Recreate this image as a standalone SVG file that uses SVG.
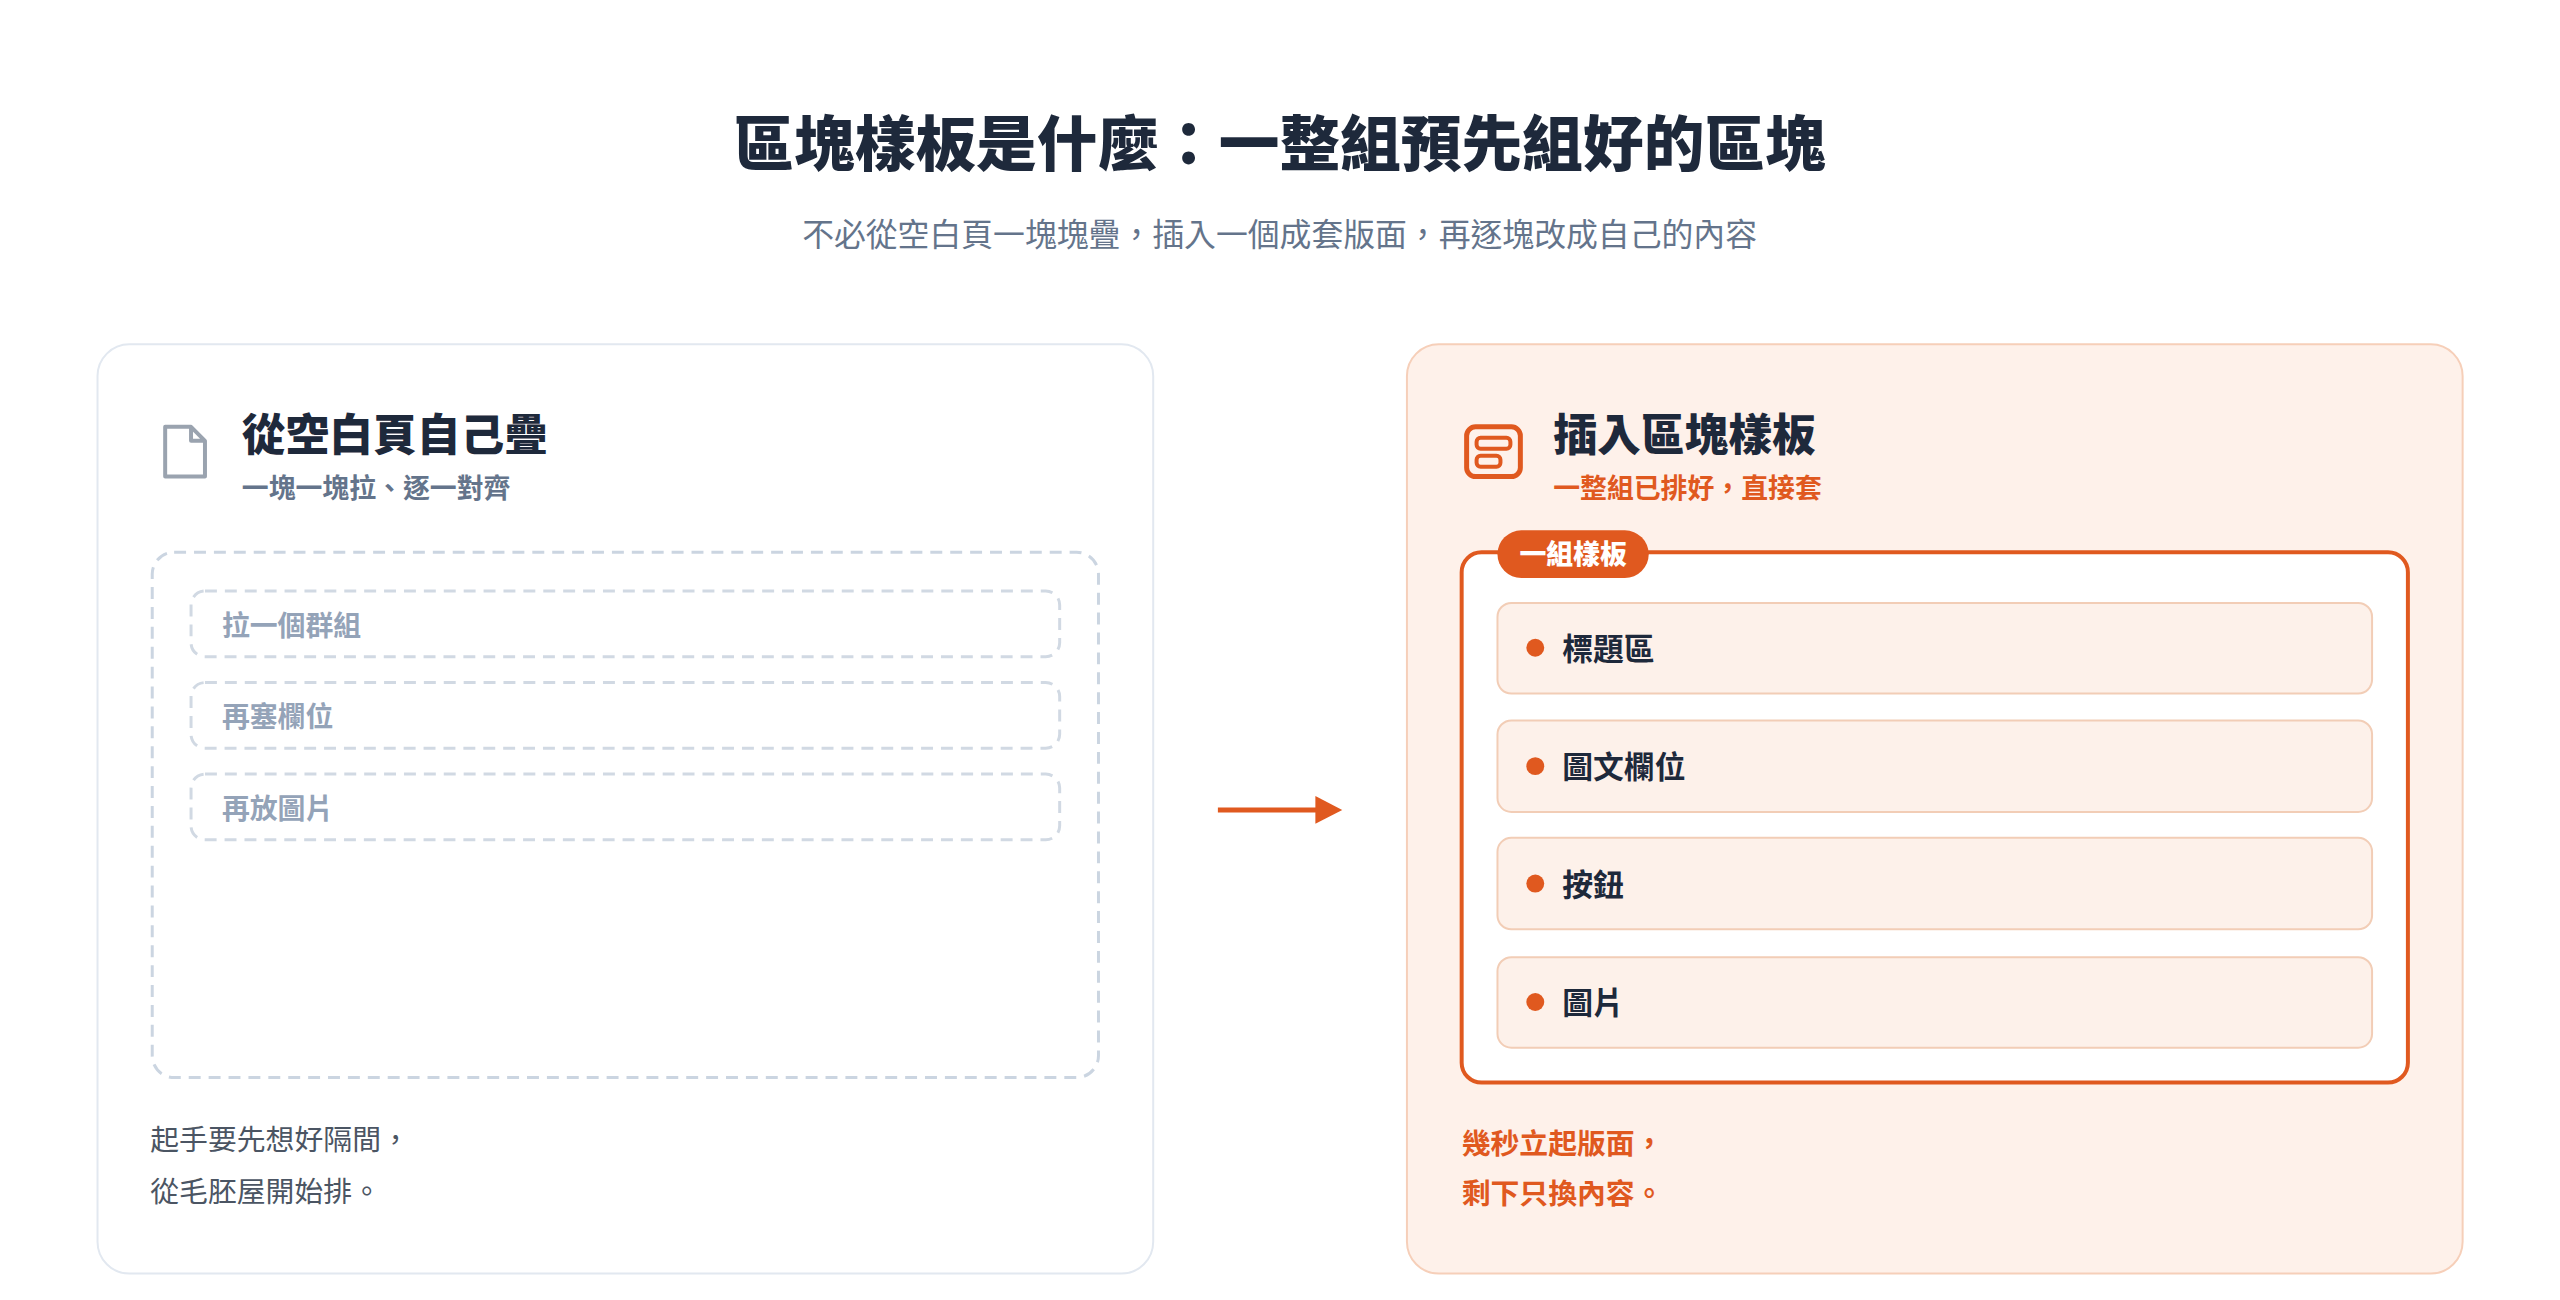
<svg xmlns="http://www.w3.org/2000/svg" width="2560" height="1300" viewBox="0 0 2560 1300">
<style>
text{font-family:"Noto Sans CJK TC","Noto Sans CJK SC",sans-serif}
.h{font-weight:900;fill:#1e293b}
.g{fill:#64748b}
.o{fill:#e0591f}
.dash{fill:none;stroke:#cbd5e1;stroke-width:3;stroke-dasharray:12 8}
.row{fill:none;stroke:#d1d9e3;stroke-width:3;stroke-dasharray:12 8}
.item{fill:#fdf1ea;stroke:#f2cdb6;stroke-width:2}
.it{font-size:31px;font-weight:700;fill:#1e293b}
</style>
<rect width="2560" height="1300" fill="#fff"/>
<g transform="scale(0.995)">
<text x="1286" y="167" text-anchor="middle" class="h" font-size="61">區塊樣板是什麼：一整組預先組好的區塊</text>
<text x="1286" y="247" text-anchor="middle" class="g" font-size="32">不必從空白頁一塊塊疊，插入一個成套版面，再逐塊改成自己的內容</text>

<g id="left">
<rect x="98" y="346" width="1061" height="934" rx="32" fill="#fff" stroke="#e2e8f0" stroke-width="2"/>
<path d="M166 429 H192 L206 443 V479 H166 Z M192 429 V443 H206" fill="none" stroke="#9aa3af" stroke-width="4" stroke-linejoin="round"/>
<text x="243" y="453" class="h" font-size="44">從空白頁自己疊</text>
<text x="243" y="501" font-size="27" font-weight="700" class="g">一塊一塊拉、逐一對齊</text>
<rect x="153" y="555" width="951" height="528" rx="22" class="dash"/>
<rect x="192" y="594" width="873" height="66" rx="14" class="row"/>
<rect x="192" y="686" width="873" height="66" rx="14" class="row"/>
<rect x="192" y="778" width="873" height="66" rx="14" class="row"/>
<g font-size="28" font-weight="700" fill="#94a3b8">
<text x="223" y="639">拉一個群組</text>
<text x="223" y="731">再塞欄位</text>
<text x="223" y="823">再放圖片</text>
</g>
<text x="151" y="1156" font-size="29" fill="#4b5563">起手要先想好隔間，</text>
<text x="151" y="1208" font-size="29" fill="#4b5563">從毛胚屋開始排。</text>
</g>

<g id="connectors">
<line x1="1224" y1="814" x2="1325" y2="814" stroke="#e0591f" stroke-width="5"/>
<polygon points="1322,800 1349,814 1322,828" fill="#e0591f"/>
</g>

<g id="right">
<rect x="1414" y="346" width="1061" height="934" rx="32" fill="#fef1ea" stroke="#f6cfb9" stroke-width="2"/>
<rect x="1474" y="429" width="54" height="50" rx="9" fill="none" stroke="#e0591f" stroke-width="5"/>
<rect x="1484" y="440" width="34" height="11" rx="4" fill="none" stroke="#e0591f" stroke-width="4"/>
<rect x="1484" y="458" width="24" height="11" rx="4" fill="none" stroke="#e0591f" stroke-width="4"/>
<text x="1561" y="453" class="h" font-size="44">插入區塊樣板</text>
<text x="1561" y="501" font-size="27" font-weight="700" class="o">一整組已排好，直接套</text>
<rect x="1469" y="555" width="951" height="533" rx="20" fill="#fff" stroke="#e0591f" stroke-width="4"/>
<rect x="1505" y="533" width="152" height="48" rx="24" fill="#e0591f"/>
<text x="1581" y="567" text-anchor="middle" font-size="27" font-weight="900" fill="#fff">一組樣板</text>
<rect x="1505" y="606" width="879" height="91" rx="14" class="item"/>
<rect x="1505" y="724" width="879" height="92" rx="14" class="item"/>
<rect x="1505" y="842" width="879" height="92" rx="14" class="item"/>
<rect x="1505" y="962" width="879" height="91" rx="14" class="item"/>
<g fill="#e0591f">
<circle cx="1543" cy="651" r="9"/><circle cx="1543" cy="770" r="9"/><circle cx="1543" cy="888" r="9"/><circle cx="1543" cy="1007" r="9"/>
</g>
<text x="1570" y="663" class="it">標題區</text>
<text x="1570" y="782" class="it">圖文欄位</text>
<text x="1570" y="900" class="it">按鈕</text>
<text x="1570" y="1019" class="it">圖片</text>
<text x="1469" y="1160" font-size="29" font-weight="700" class="o">幾秒立起版面，</text>
<text x="1469" y="1210" font-size="29" font-weight="700" class="o">剩下只換內容。</text>
</g>
</g>
</svg>
